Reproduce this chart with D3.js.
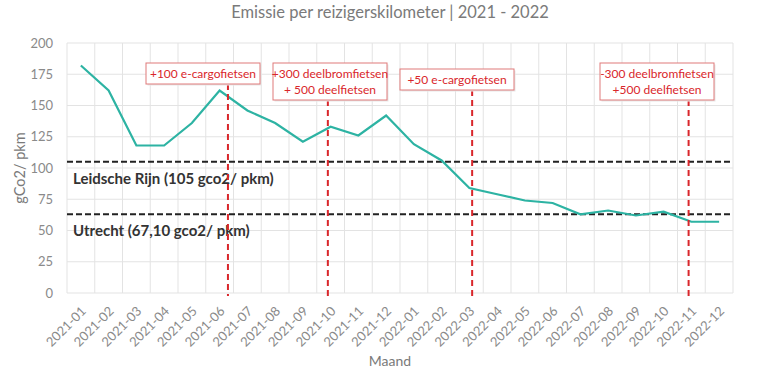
<!DOCTYPE html>
<html>
<head>
<meta charset="utf-8">
<script src="https://cdn.jsdelivr.net/npm/d3@7"></script>
<style>
  body { margin: 0; background: #fff; }
  svg { font-family: Lato, "Noto Sans", sans-serif; }
</style>
</head>
<body>
<div id="chart"></div>
<script>
const months = ['2021-01','2021-02','2021-03','2021-04','2021-05','2021-06','2021-07','2021-08','2021-09','2021-10','2021-11','2021-12',
  '2022-01','2022-02','2022-03','2022-04','2022-05','2022-06','2022-07','2022-08','2022-09','2022-10','2022-11','2022-12'];
const emissie = [182, 162, 118, 118, 136, 162, 146, 136, 121, 133, 126, 142,
  119, 106, 84, 79, 74, 72, 63, 66, 62, 65, 57, 57];
const yTicks = [0, 25, 50, 75, 100, 125, 150, 175, 200];
const refValues = [105, 63];
const refLabels = ['Leidsche Rijn (105 gco2/ pkm)', 'Utrecht (67,10 gco2/ pkm)'];
// event position in month-index units
const eventPos = [5.3, 8.9, 14.1, 21.9];
const eventLabels = [['+100 e-cargofietsen'], ['+300 deelbromfietsen', '+ 500 deelfietsen'],
  ['+50 e-cargofietsen'], ['-300 deelbromfietsen', '+500 deelfietsen']];

const width = 760, height = 380;
const margin = {top: 43, right: 27, bottom: 87, left: 67};
const innerW = width - margin.left - margin.right;
const innerH = height - margin.top - margin.bottom;

const svg = d3.select('#chart').append('svg')
  .attr('width', width)
  .attr('height', height);

const x = d3.scaleBand().domain(months).range([margin.left, margin.left + innerW]);
const xi = d3.scaleLinear().domain([-0.5, months.length - 0.5]).range([margin.left, margin.left + innerW]);
const y = d3.scaleLinear().domain([0, 200]).range([margin.top + innerH, margin.top]);

// grid
svg.append('g').selectAll('line')
  .data(yTicks)
  .enter().append('line')
  .attr('x1', margin.left).attr('x2', margin.left + innerW)
  .attr('y1', d => y(d)).attr('y2', d => y(d))
  .attr('stroke', '#e3e3e3').attr('stroke-width', 1);

svg.append('g').selectAll('line')
  .data(d3.range(months.length + 1))
  .enter().append('line')
  .attr('x1', d => xi(d - 0.5)).attr('x2', d => xi(d - 0.5))
  .attr('y1', y(0)).attr('y2', y(200))
  .attr('stroke', '#e3e3e3').attr('stroke-width', 1);

// y axis
const yAxis = svg.append('g')
  .attr('transform', 'translate(' + margin.left + ',0)')
  .call(d3.axisLeft(y).tickValues(yTicks).tickSize(0).tickPadding(14));
yAxis.select('.domain').remove();
yAxis.selectAll('text').attr('font-size', 13).attr('fill', '#8a8a8a').attr('font-family', 'Lato, sans-serif');

// x axis
const xAxis = svg.append('g')
  .attr('transform', 'translate(0,' + y(0) + ')')
  .call(d3.axisBottom(x).tickSize(0).tickPadding(0));
xAxis.select('.domain').remove();
xAxis.selectAll('text')
  .attr('font-size', 13).attr('fill', '#8a8a8a').attr('font-family', 'Lato, sans-serif')
  .attr('text-anchor', 'end')
  .attr('dy', 0)
  .attr('transform', 'translate(6,19) rotate(-45)');

// axis titles
svg.append('text')
  .attr('x', width / 2 + 10).attr('y', 18)
  .attr('text-anchor', 'middle')
  .attr('font-size', 16.5).attr('fill', '#7a7a7a')
  .text('Emissie per reizigerskilometer | 2021 - 2022');

svg.append('text')
  .attr('transform', 'translate(25,' + (margin.top + innerH / 2) + ') rotate(-90)')
  .attr('text-anchor', 'middle')
  .attr('font-size', 14.5).attr('fill', '#7a7a7a')
  .text('gCo2/ pkm');

svg.append('text')
  .attr('x', width / 2 + 10).attr('y', 366)
  .attr('text-anchor', 'middle')
  .attr('font-size', 14).attr('fill', '#7a7a7a')
  .text('Maand');

// reference lines
svg.append('g').selectAll('line')
  .data(refValues)
  .enter().append('line')
  .attr('x1', margin.left).attr('x2', margin.left + innerW)
  .attr('y1', d => y(d)).attr('y2', d => y(d))
  .attr('stroke', '#222').attr('stroke-width', 2)
  .attr('stroke-dasharray', '6,3');

svg.append('g').selectAll('text')
  .data(refLabels)
  .enter().append('text')
  .attr('x', margin.left + 6)
  .attr('y', (d, i) => y(refValues[i]) + 22)
  .attr('font-size', 15).attr('font-weight', 'bold').attr('fill', '#333')
  .text(d => d);

// line
const line = d3.line()
  .x((d, i) => x(months[i]) + x.bandwidth() / 2)
  .y(d => y(d));

svg.append('path')
  .datum(emissie)
  .attr('d', line)
  .attr('fill', 'none')
  .attr('stroke', '#2db3a3')
  .attr('stroke-width', 2.2);

// events
const boxLayout = [
  {cx: 203, top: 63},
  {cx: 330, top: 63},
  {cx: 457, top: 69},
  {cx: 657, top: 63}
];
const boxW = 114, lineH = 16;

const ev = svg.append('g').selectAll('g')
  .data(eventPos)
  .enter().append('g');

ev.append('line')
  .attr('x1', d => xi(d)).attr('x2', d => xi(d))
  .attr('y1', (d, i) => boxLayout[i].top + eventLabels[i].length * lineH + 5)
  .attr('y2', y(0) + 3)
  .attr('stroke', '#d9262b').attr('stroke-width', 2)
  .attr('stroke-dasharray', '6,4');

ev.append('rect')
  .attr('x', (d, i) => boxLayout[i].cx - boxW / 2 + 1.5)
  .attr('y', (d, i) => boxLayout[i].top + 1.5)
  .attr('width', boxW)
  .attr('height', (d, i) => eventLabels[i].length * lineH + 5)
  .attr('fill', '#e8e8e8');

ev.append('rect')
  .attr('x', (d, i) => boxLayout[i].cx - boxW / 2)
  .attr('y', (d, i) => boxLayout[i].top)
  .attr('width', boxW)
  .attr('height', (d, i) => eventLabels[i].length * lineH + 5)
  .attr('fill', '#fff')
  .attr('stroke', '#e07a7a').attr('stroke-width', 1);

ev.each(function(d, i) {
  d3.select(this).selectAll('text.lbl')
    .data(eventLabels[i])
    .enter().append('text')
    .attr('class', 'lbl')
    .attr('x', boxLayout[i].cx)
    .attr('y', (t, j) => boxLayout[i].top + 15 + j * lineH)
    .attr('text-anchor', 'middle')
    .attr('font-size', 12).attr('fill', '#d9262b')
    .text(t => t);
});
</script>
</body>
</html>
